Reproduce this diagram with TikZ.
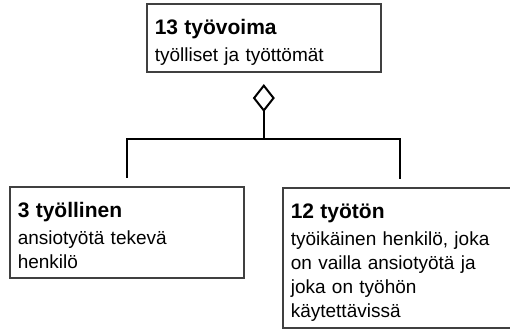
\documentclass[tikz,border=0pt]{standalone}
\usepackage{fontspec}
\setmainfont{Liberation Sans}
\usetikzlibrary{arrows.meta}
\usetikzlibrary{calc}

\newcommand{\boxtitle}[1]{{\fontsize{21}{24}\selectfont\bfseries\rule{0pt}{23.5pt}#1}\\[3pt]}
\newcommand{\boxend}{\rule[-2.5pt]{0pt}{2.5pt}}

\begin{document}
\begin{tikzpicture}[x=1pt,y=-1pt,
	box/.style={draw=black!75, line width=1.6pt, anchor=north west, align=left, text width=218pt, inner xsep=8pt, inner ysep=7pt, font=\fontsize{19}{24}\selectfont},
	link/.style={draw=black, line width=2pt}]
	\useasboundingbox (0,0) rectangle (510,332);
	\clip (0,0) rectangle (510,332);
	\node[box] (force) at (146,3) {\boxtitle{13 työvoima}työlliset ja työttömät\boxend};
	\node[box] (employed) at (9,186) {\boxtitle{3 työllinen}ansiotyötä tekevä\\henkilö\boxend};
	\node[box] (unemployed) at (282,187) {\boxtitle{12 työtön}työikäinen henkilö, joka\\on vailla ansiotyötä ja\\joka on työhön\\käytettävissä\boxend};
	\coordinate (fork) at ($(force.south)+(0,66)$);
	\draw[link, {Diamond[open,length=28pt,width=22pt]}-, shorten <=11pt, shorten >=8pt] (force.south) -- (fork) -| (employed.north);
	\draw[link, shorten >=8pt] (fork) -| (unemployed.north);
\end{tikzpicture}
\end{document}
